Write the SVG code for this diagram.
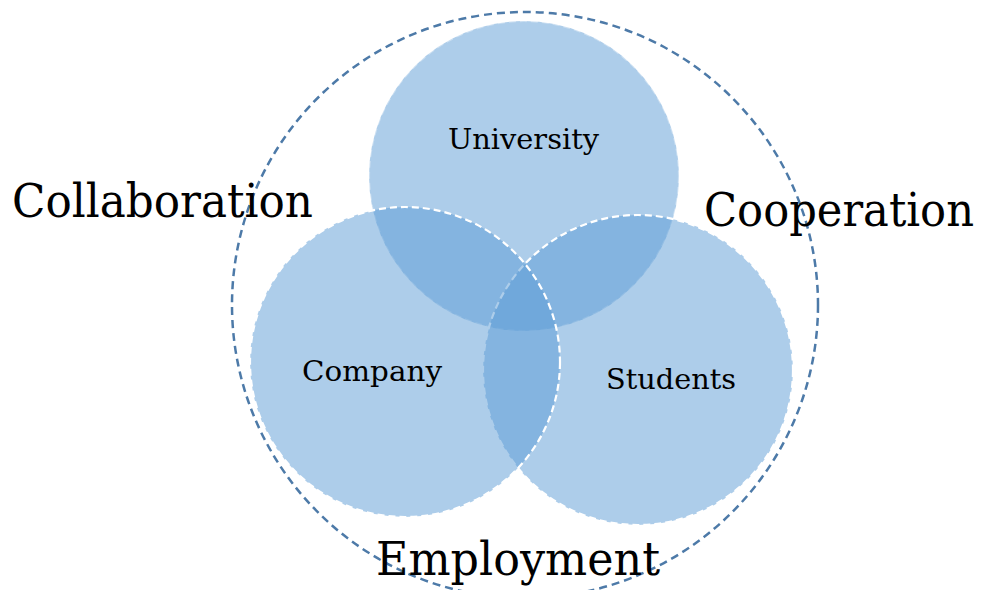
<svg xmlns="http://www.w3.org/2000/svg" width="985" height="590" viewBox="0 0 985 590">
<style>
.set{fill:#5b9bd5;fill-opacity:0.5;stroke:#ffffff;stroke-width:2.2;stroke-dasharray:7 4}
.outer{fill:none;stroke:#4d7aa8;stroke-width:2.5;stroke-dasharray:8 5}
.lbl{font-family:"DejaVu Serif","Liberation Serif",serif;fill:#000000}
.big{font-size:47px}
.small{font-size:28px}
</style>
<rect width="985" height="590" fill="#ffffff"/>
<g id="connectors">
<circle class="outer" cx="525" cy="305" r="293"/>
</g>
<g id="university">
<circle class="set" cx="524" cy="176" r="155" stroke-opacity="0.35"/>
<text class="lbl small" x="448" y="149" textLength="151" lengthAdjust="spacingAndGlyphs">University</text>
</g>
<g id="students">
<circle class="set" cx="638" cy="370" r="155"/>
<text class="lbl small" x="606" y="389" textLength="130" lengthAdjust="spacingAndGlyphs">Students</text>
</g>
<g id="company">
<circle class="set" cx="405" cy="362" r="155"/>
<text class="lbl small" x="302" y="381" textLength="140" lengthAdjust="spacingAndGlyphs">Company</text>
</g>
<g id="collaboration">
<text class="lbl big" x="12" y="217" textLength="301" lengthAdjust="spacingAndGlyphs">Collaboration</text>
</g>
<g id="cooperation">
<text class="lbl big" x="704" y="226" textLength="270" lengthAdjust="spacingAndGlyphs">Cooperation</text>
</g>
<g id="employment">
<text class="lbl big" x="376" y="575" textLength="284" lengthAdjust="spacingAndGlyphs">Employment</text>
</g>
</svg>
